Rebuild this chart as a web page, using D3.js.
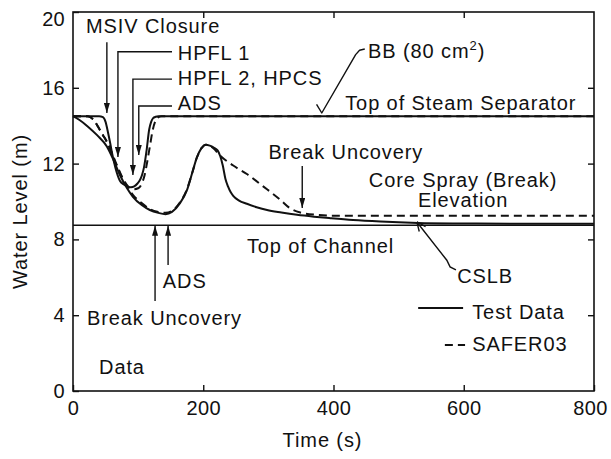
<!DOCTYPE html>
<html>
<head>
<meta charset="utf-8">
<script src="https://cdn.jsdelivr.net/npm/d3@7"></script>
<style>
  body { margin: 0; background: #fff; }
  svg text { font-family: "Liberation Sans", Arial, Helvetica, sans-serif; font-size: 20px; letter-spacing: 0.9px; fill: #111; }
  svg .tick text { letter-spacing: 0.3px; }
</style>
</head>
<body>
<svg id="chart" width="611" height="459"></svg>
<script>
// Axis ticks
const timeTicks = [0, 200, 400, 600, 800];
const levelTicks = [0, 4, 8, 12, 16, 20];

// Test data: upper plenum / separator level (s, m)
const upperTestTime  = [0, 40, 46, 50, 54, 57, 60, 65, 72, 78, 83, 89, 94, 99, 103, 106, 109, 113, 117, 120, 123, 127, 131, 138, 800];
const upperTestLevel = [14.5, 14.5, 14.45, 14.2, 13.6, 13.1, 12.55, 11.8, 11.1, 10.9, 10.8, 10.75, 10.8, 10.95, 11.15, 11.4, 11.8, 12.7, 13.8, 14.2, 14.4, 14.47, 14.5, 14.5, 14.5];

// SAFER03: upper plenum / separator level
const upperCalcTime  = [0, 22, 28, 34, 40, 46, 52, 58, 64, 70, 76, 82, 88, 94, 100, 105, 110, 114, 118, 122, 126, 130, 136, 800];
const upperCalcLevel = [14.5, 14.5, 14.42, 14.2, 13.85, 13.5, 13.15, 12.7, 12.2, 11.7, 11.25, 10.9, 10.7, 10.65, 10.7, 10.9, 11.4, 12.1, 12.9, 13.7, 14.2, 14.42, 14.5, 14.5];

// Test data: channel region level
const coreTestTime  = [0, 10, 23, 37, 52, 62, 72, 83, 92, 106, 118, 131, 142, 152, 164, 175, 183, 190, 197, 204, 210, 216, 222, 226, 230, 234, 238, 242, 246, 255, 267, 282, 298, 320, 344, 370, 395, 430, 472, 530, 600, 700, 800];
const coreTestLevel = [14.5, 14.3, 13.95, 13.5, 12.9, 12.2, 11.4, 10.7, 10.25, 9.8, 9.55, 9.4, 9.33, 9.45, 9.9, 10.6, 11.5, 12.3, 12.8, 13.0, 12.95, 12.85, 12.7, 12.4, 11.9, 11.2, 10.8, 10.5, 10.3, 10.05, 9.88, 9.7, 9.55, 9.42, 9.3, 9.2, 9.12, 9.02, 8.94, 8.87, 8.84, 8.82, 8.82];

// SAFER03: channel region level
const coreCalcTime  = [0, 22, 28, 34, 40, 46, 52, 58, 64, 72, 83, 92, 106, 118, 131, 142, 152, 164, 175, 183, 190, 197, 204, 210, 216, 225, 246, 267, 292, 318, 333, 349, 375, 400, 800];
const coreCalcLevel = [14.5, 14.5, 14.42, 14.2, 13.85, 13.5, 13.15, 12.7, 12.15, 11.5, 10.8, 10.35, 9.9, 9.6, 9.45, 9.4, 9.5, 9.95, 10.65, 11.5, 12.3, 12.8, 13.0, 12.95, 12.8, 12.45, 11.9, 11.45, 10.8, 10.1, 9.65, 9.42, 9.3, 9.25, 9.25];

// Reference elevation
const topOfChannel = 8.75;

// Text notes: [text, time, level, anchor]
const notes = [
  ["MSIV Closure", 20, 18.9, "start"],
  ["HPFL 1", 161, 17.47, "start"],
  ["HPFL 2, HPCS", 161, 16.15, "start"],
  ["ADS", 161, 14.83, "start"],
  ["Top of Steam Separator", 418, 14.83, "start"],
  ["Break Uncovery", 300, 12.24, "start"],
  ["Core Spray (Break)", 599, 10.77, "middle"],
  ["Elevation", 599, 9.71, "middle"],
  ["Top of Channel", 267, 7.28, "start"],
  ["CSLB", 590, 5.7, "start"],
  ["ADS", 138, 5.44, "start"],
  ["Break Uncovery", 21.5, 3.48, "start"],
  ["Data", 40, 0.9, "start"]
];

// Leader lines ending in a filled arrowhead: lists of [time, level]
const arrowLeaders = [
  [[52, 18.4], [52, 14.67]],
  [[152, 17.9], [69, 17.9], [69, 12.35]],
  [[152, 16.46], [92, 16.46], [92, 11.4]],
  [[152, 15.04], [101, 15.04], [101, 12.45]],
  [[352, 11.87], [352, 9.66]],
  [[146, 6.65], [146, 8.72]],
  [[126, 4.75], [126, 8.72]]
];
// Break label leader (check mark) and CSLB leader
const breakLeader = [[448, 18.05], [440, 17.98], [434, 17.75], [382, 14.67], [374, 15.12]];
const cslbLeader = [[588, 6.39], [579, 6.55], [574, 6.9], [528, 8.92]];

// Legend entries: [label, time from, time to, line level, text level, dashed]
const legend = [
  ["Test Data", 530, 599, 4.38, 3.8, false],
  ["SAFER03", 571, 602, 2.43, 2.11, true]
];

const svg = d3.select("#chart");
const margin = { left: 73, right: 17, top: 12, bottom: 68 };
const W = 611, H = 459;

const x = d3.scaleLinear().domain([0, 800]).range([margin.left, W - margin.right]);
const y = d3.scaleLinear().domain([0, 20]).range([H - margin.bottom, margin.top]);

const ink = "#111";

// Arrowhead markers
const defs = svg.append("defs");
defs.append("marker")
  .attr("id", "head").attr("viewBox", "0 0 10 6")
  .attr("refX", 10).attr("refY", 3)
  .attr("markerWidth", 10).attr("markerHeight", 6)
  .attr("markerUnits", "userSpaceOnUse")
  .attr("orient", "auto")
  .append("path").attr("d", "M0,0 L10,3 L0,6 Z").attr("fill", ink);
defs.append("marker")
  .attr("id", "chevron").attr("viewBox", "0 0 10 10")
  .attr("refX", 10).attr("refY", 5)
  .attr("markerWidth", 10).attr("markerHeight", 10)
  .attr("markerUnits", "userSpaceOnUse")
  .attr("orient", "auto")
  .append("path").attr("d", "M1,1 L10,5 L1,9").attr("fill", "none").attr("stroke", ink).attr("stroke-width", 1.4);

// Axes
const gx = svg.append("g").attr("transform", `translate(0,${y(0)})`)
  .call(d3.axisBottom(x).tickValues(timeTicks).tickSize(-6).tickPadding(10).tickFormat(d3.format("d")));
const gy = svg.append("g").attr("transform", `translate(${x(0)},0)`)
  .call(d3.axisLeft(y).tickValues(levelTicks).tickSize(-6).tickPadding(8).tickFormat(d3.format("d")));
svg.append("g").attr("transform", `translate(0,${y(20)})`)
  .call(d3.axisTop(x).tickValues([200, 400, 600]).tickSize(-6).tickFormat(""));
svg.append("g").attr("transform", `translate(${x(800)},0)`)
  .call(d3.axisRight(y).tickValues([4, 8, 12, 16]).tickSize(-6).tickFormat(""));

svg.selectAll(".domain").remove();
svg.selectAll(".tick line").attr("stroke", ink).attr("stroke-width", 1.4);
svg.selectAll(".tick text").attr("fill", ink).style("font-size", "20px");
gy.selectAll(".tick text").filter(d => d === 20).attr("dy", "0.65em");
gx.selectAll(".tick text").filter(d => d === 800).attr("dx", -4);

// Plot frame
svg.append("rect")
  .attr("x", x(0)).attr("y", y(20))
  .attr("width", x(800) - x(0)).attr("height", y(0) - y(20))
  .attr("fill", "none").attr("stroke", ink).attr("stroke-width", 1.6);

// Axis titles
svg.append("text")
  .attr("transform", `translate(27,${(y(0) + y(20)) / 2 + 10}) rotate(-90)`)
  .attr("text-anchor", "middle")
  .text("Water Level (m)");
svg.append("text")
  .attr("x", (x(0) + x(800)) / 2 - 11).attr("y", 447)
  .attr("text-anchor", "middle")
  .text("Time (s)");

// Top of channel reference line
svg.append("line")
  .attr("x1", x(0)).attr("x2", x(800))
  .attr("y1", y(topOfChannel)).attr("y2", y(topOfChannel))
  .attr("stroke", ink).attr("stroke-width", 1.6);

// Curves
const curveLine = d3.line().x(d => x(d[0])).y(d => y(d[1])).curve(d3.curveMonotoneX);
const zipped = (ts, vs) => ts.map((t, i) => [t, vs[i]]);
const series = [
  { pts: zipped(upperCalcTime, upperCalcLevel), dashed: true },
  { pts: zipped(coreCalcTime, coreCalcLevel), dashed: true },
  { pts: zipped(upperTestTime, upperTestLevel), dashed: false },
  { pts: zipped(coreTestTime, coreTestLevel), dashed: false }
];
svg.append("g").selectAll("path").data(series).join("path")
  .attr("d", d => curveLine(d.pts))
  .attr("fill", "none")
  .attr("stroke", ink)
  .attr("stroke-width", 2)
  .attr("stroke-dasharray", d => d.dashed ? "8,5" : null)
  .attr("stroke-linejoin", "round");

// Leaders
const plain = d3.line().x(d => x(d[0])).y(d => y(d[1]));
svg.append("g").selectAll("path").data(arrowLeaders).join("path")
  .attr("d", plain)
  .attr("fill", "none").attr("stroke", ink).attr("stroke-width", 1.4)
  .attr("marker-end", "url(#head)");
svg.append("path").attr("d", plain(breakLeader))
  .attr("fill", "none").attr("stroke", ink).attr("stroke-width", 1.4).attr("stroke-linejoin", "round");
svg.append("path").attr("d", plain(cslbLeader))
  .attr("fill", "none").attr("stroke", ink).attr("stroke-width", 1.4)
  .attr("marker-end", "url(#chevron)");

// Text notes
svg.append("g").selectAll("text").data(notes).join("text")
  .attr("x", d => x(d[1])).attr("y", d => y(d[2]))
  .attr("text-anchor", d => d[3])
  .text(d => d[0]);

// Break area label with superscript
const bb = svg.append("text").attr("x", x(453)).attr("y", y(17.57));
bb.append("tspan").text("BB (80 cm");
bb.append("tspan").attr("dy", -8).style("font-size", "13px").text("2");
bb.append("tspan").attr("dy", 8).text(")");

// Legend
const lg = svg.append("g").selectAll("g").data(legend).join("g");
lg.append("line")
  .attr("x1", d => x(d[1])).attr("x2", d => x(d[2]))
  .attr("y1", d => y(d[3])).attr("y2", d => y(d[3]))
  .attr("stroke", ink).attr("stroke-width", 2)
  .attr("stroke-dasharray", d => d[5] ? "8,5" : null);
lg.append("text")
  .attr("x", x(613)).attr("y", d => y(d[4]))
  .text(d => d[0]);
</script>
</body>
</html>
